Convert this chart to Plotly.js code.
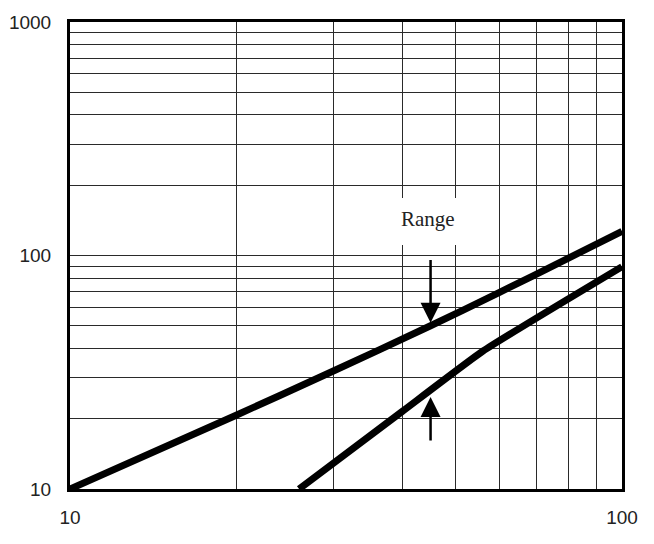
<!DOCTYPE html>
<html>
<head>
<meta charset="utf-8">
<script src="https://cdn.plot.ly/plotly-3.0.1.min.js"></script>
<style>html,body{margin:0;padding:0;background:#fff;}#chart{width:654px;height:544px;}</style>
</head>
<body>
<div id="chart"></div>
<script>
// Upper boundary of the range
const upperX = [10, 20, 30, 45, 60, 80, 100];
const upperY = [10, 20.7, 32, 50, 69.5, 97.5, 127];
// Lower boundary of the range
const lowerX = [26, 40, 56, 100];
const lowerY = [10, 21.5, 39, 89.6];

// Axis ticks / grid
const xTickVals = [10, 20, 30, 40, 50, 60, 70, 80, 90, 100];
const xTickText = ['10', '', '', '', '', '', '', '', '', '100'];
const yTickVals = [10, 20, 30, 40, 50, 60, 70, 80, 90, 100, 200, 300, 400, 500, 600, 700, 800, 900, 1000];
const yTickText = ['10', '', '', '', '', '', '', '', '', '100', '', '', '', '', '', '', '', '', '1000'];

// Annotation: "Range" label, its white backdrop and arrows
const rangeLabel = 'Range';
const labelPos = {x: 44.6, y: 143.6};
const labelBox = {x0: 39.2, x1: 51.5, y0: 111, y1: 176.5};
const arrowX = 45;
const downArrow = {tail: 97, tip: 51.5};
const upArrow = {tail: 15.9, tip: 24.8};

const lineStyle = {color: '#000', width: 7};

const traces = [
  {x: upperX, y: upperY, type: 'scatter', mode: 'lines', line: Object.assign({shape: 'spline', smoothing: 0.8}, lineStyle), hoverinfo: 'skip'},
  {x: lowerX, y: lowerY, type: 'scatter', mode: 'lines', line: Object.assign({shape: 'spline', smoothing: 0.4}, lineStyle), hoverinfo: 'skip'}
];

const tickFont = {family: '"Liberation Sans", Arial, sans-serif', size: 19, color: '#222'};

const layout = {
  width: 654, height: 544,
  margin: {l: 70, r: 32, t: 22, b: 55, pad: 0},
  paper_bgcolor: '#fff', plot_bgcolor: '#fff',
  showlegend: false,
  xaxis: {
    type: 'log', range: [1, 2],
    tickmode: 'array', tickvals: xTickVals, ticktext: xTickText,
    showgrid: true, gridcolor: '#2a2a2a', gridwidth: 1,
    showline: true, mirror: true, linecolor: '#000', linewidth: 3,
    ticks: '', ticklabelstandoff: 9,
    tickfont: tickFont, zeroline: false, fixedrange: true
  },
  yaxis: {
    type: 'log', range: [1, 3],
    tickmode: 'array', tickvals: yTickVals, ticktext: yTickText,
    showgrid: true, gridcolor: '#2a2a2a', gridwidth: 1,
    showline: true, mirror: true, linecolor: '#000', linewidth: 3,
    ticks: '', ticklabelstandoff: 12,
    tickfont: tickFont, zeroline: false, fixedrange: true
  },
  shapes: [
    {type: 'rect', xref: 'x', yref: 'y', x0: labelBox.x0, x1: labelBox.x1, y0: labelBox.y0, y1: labelBox.y1,
     fillcolor: '#fff', line: {width: 0}, layer: 'above'}
  ],
  annotations: [
    {
      x: Math.log10(labelPos.x), y: Math.log10(labelPos.y), xref: 'x', yref: 'y',
      text: rangeLabel, showarrow: false,
      font: {family: '"Liberation Serif", "Times New Roman", serif', size: 21, color: '#222'},
      xanchor: 'center', yanchor: 'middle'
    },
    {
      x: Math.log10(arrowX), y: Math.log10(downArrow.tip), xref: 'x', yref: 'y',
      ax: Math.log10(arrowX), ay: Math.log10(downArrow.tail), axref: 'x', ayref: 'y',
      text: '', showarrow: true, arrowhead: 2, arrowsize: 1.6, arrowwidth: 2.5, arrowcolor: '#000', standoff: 0
    },
    {
      x: Math.log10(arrowX), y: Math.log10(upArrow.tip), xref: 'x', yref: 'y',
      ax: Math.log10(arrowX), ay: Math.log10(upArrow.tail), axref: 'x', ayref: 'y',
      text: '', showarrow: true, arrowhead: 2, arrowsize: 1.6, arrowwidth: 2.5, arrowcolor: '#000', standoff: 0
    }
  ]
};

Plotly.newPlot('chart', traces, layout, {staticPlot: true, displayModeBar: false});
</script>
</body>
</html>
